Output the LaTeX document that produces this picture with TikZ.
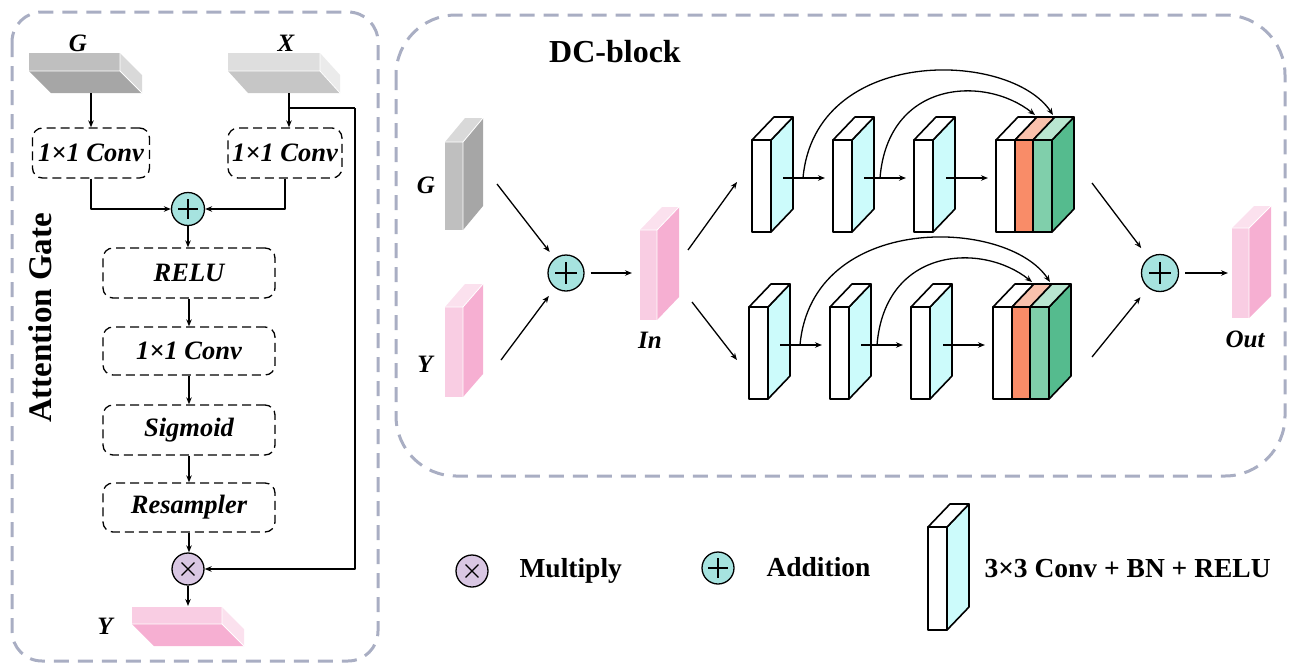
\documentclass[tikz,border=0pt]{standalone}
\usepackage{fontspec}
\setmainfont{Liberation Serif}
\usetikzlibrary{arrows.meta,calc}
\definecolor{framec}{HTML}{A9AEC3}
\definecolor{addc}{HTML}{A6E3DF}
\definecolor{mulc}{HTML}{D9C7E3}
\definecolor{cyanside}{HTML}{CCFBFB}
\definecolor{orng}{HTML}{F98C68}
\definecolor{orngtop}{HTML}{F9C1AC}
\definecolor{grnf}{HTML}{80CFAB}
\definecolor{grns}{HTML}{55BB8E}
\definecolor{grnt}{HTML}{B9E6D1}
\definecolor{pinkf}{HTML}{F9CDE3}
\definecolor{pinks}{HTML}{F6AFD2}
\definecolor{pinkt}{HTML}{FBE1EE}
\definecolor{grayf}{HTML}{BFBFBF}
\definecolor{grayd}{HTML}{A6A6A6}
\definecolor{grayl}{HTML}{D9D9D9}
\definecolor{xf}{HTML}{DEDEDE}
\definecolor{xd}{HTML}{C6C6C6}
\definecolor{xl}{HTML}{EBEBEB}
\tikzset{
  arr/.style={-{Stealth[length=7pt,width=5.5pt]},line width=1.3pt},
  opbox/.style={draw,dash pattern=on 9pt off 5pt,rounded corners=10pt,line width=1.3pt,
    minimum height=50pt,inner sep=0pt,font=\fontsize{26.5}{26.5}\selectfont\bfseries\itshape},
  framebox/.style={draw=framec,line width=3pt,dash pattern=on 15pt off 9pt},
  blk/.style={draw=black,line width=1.6pt,line join=round},
  addnode/.style={circle,draw,fill=addc,line width=1.3pt,minimum size=#1,inner sep=0pt,
    path picture={\draw[line width=1.2pt]
      ([xshift=-0.3*#1]path picture bounding box.center) -- ([xshift=0.3*#1]path picture bounding box.center)
      ([yshift=-0.3*#1]path picture bounding box.center) -- ([yshift=0.3*#1]path picture bounding box.center);}},
  mulnode/.style={circle,draw,fill=mulc,line width=1.3pt,minimum size=#1,inner sep=0pt,
    path picture={\draw[line width=1.2pt]
      ([shift={(-0.2*#1,-0.2*#1)}]path picture bounding box.center) -- ([shift={(0.2*#1,0.2*#1)}]path picture bounding box.center)
      ([shift={(-0.2*#1,0.2*#1)}]path picture bounding box.center) -- ([shift={(0.2*#1,-0.2*#1)}]path picture bounding box.center);}},
  lab/.style={font=\fontsize{25}{25}\selectfont\bfseries\itshape},
  legtext/.style={font=\fontsize{27.5}{27.5}\selectfont\bfseries,anchor=west},
}
% slab seen from above: front, side (down-right), bottom
\newcommand\hslab[9]{%
  \fill[#7] (#1,#2) rectangle ++(#3,#4);
  \fill[#8] (#1+#3,#2) -- ++(#5,#6) -- ++(0,#4) -- ++(-#5,-#6) -- cycle;
  \fill[#9] (#1,#2+#4) -- ++(#3,0) -- ++(#5,#6) -- ++(-#3,0) -- cycle;
  \draw[white,line width=0.8pt] (#1,#2+#4) -- ++(#3,0) -- ++(0,-#4) (#1+#3,#2+#4) -- ++(#5,#6);
}
% upright slab: front, side (up-right), top
\newcommand\vslab[9]{%
  \fill[#7] (#1,#2) rectangle ++(#3,#4);
  \fill[#8] (#1+#3,#2) -- ++(#5,-#6) -- ++(0,#4) -- ++(-#5,#6) -- cycle;
  \fill[#9] (#1,#2) -- ++(#5,-#6) -- ++(#3,0) -- ++(-#5,#6) -- cycle;
  \draw[white,line width=0.8pt] (#1,#2) -- ++(#3,0) -- ++(0,#4) (#1+#3,#2) -- ++(#5,-#6);
}
\newcommand\convblk[3]{% x y height
  \filldraw[blk,fill=cyanside] (#1+19,#2) -- ++(22,-23) -- ++(0,#3) -- ++(-22,23) -- cycle;
  \filldraw[blk,fill=white] (#1,#2) -- ++(22,-23) -- ++(19,0) -- ++(-22,23) -- cycle;
  \filldraw[blk,fill=white] (#1,#2) rectangle ++(19,#3);
}
\newcommand\catblk[2]{% x y
  \filldraw[blk,fill=grns] (#1+56,#2) -- ++(22,-23) -- ++(0,92) -- ++(-22,23) -- cycle;
  \filldraw[blk,fill=white] (#1,#2) -- ++(22,-23) -- ++(19,0) -- ++(-22,23) -- cycle;
  \filldraw[blk,fill=orngtop] (#1+19,#2) -- ++(22,-23) -- ++(18,0) -- ++(-22,23) -- cycle;
  \filldraw[blk,fill=grnt] (#1+37,#2) -- ++(22,-23) -- ++(19,0) -- ++(-22,23) -- cycle;
  \filldraw[blk,fill=white] (#1,#2) rectangle ++(19,92);
  \filldraw[blk,fill=orng] (#1+19,#2) rectangle ++(18,92);
  \filldraw[blk,fill=grnf] (#1+37,#2) rectangle ++(19,92);
}
\newcommand\dcrow[3]{% prefix x0 y0
  \convblk{#2}{#3}{92}
  \convblk{#2+81}{#3}{92}
  \convblk{#2+162}{#3}{92}
  \catblk{#2+244}{#3}
  \coordinate (#1s1) at (#2+31,#3+38);
  \coordinate (#1e1) at (#2+73,#3+38);
  \coordinate (#1s2) at (#2+112,#3+38);
  \coordinate (#1e2) at (#2+154,#3+38);
  \coordinate (#1s3) at (#2+194,#3+38);
  \coordinate (#1e3) at (#2+236,#3+38);
  \coordinate (#1b) at (#2+51,#3+38);
  \coordinate (#1bt) at (#2+301,#3-25);
  \coordinate (#1c) at (#2+128,#3+38);
  \coordinate (#1ct) at (#2+283,#3-25);
  \draw[arr] (#1s1) -- (#1e1);
  \draw[arr] (#1s2) -- (#1e2);
  \draw[arr] (#1s3) -- (#1e3);
  \draw[arr] (#1b) .. controls (#2+63,#3-95) and (#2+258,#3-90) .. (#1bt);
  \draw[arr] (#1c) .. controls (#2+136,#3-60) and (#2+233,#3-65) .. (#1ct);
}
\begin{document}
\begin{tikzpicture}[x=1pt,y=-1pt,line join=round]
\useasboundingbox (0,0) rectangle (1294,667);
% frames
\draw[framebox,rounded corners=30pt] (12,12) rectangle (378,661);
\draw[framebox,rounded corners=60pt] (396,15) rectangle (1285,476);

% ---------- Attention gate ----------
\node[rotate=90,font=\fontsize{33}{33}\selectfont\bfseries] (agt) at (40,318) {Attention Gate};
\hslab{29}{53}{91}{18}{22}{22}{grayf}{grayl}{grayd}
\hslab{228}{53}{92}{18}{20}{22}{xf}{xl}{xd}
\hslab{132}{607}{90}{17}{22}{22}{pinkf}{pinkt}{pinks}
\node[lab] (gl) at (78,43) {G};
\node[lab] (xl) at (286,43) {X};
\node[lab] (yl) at (105,626) {Y};
\coordinate (gb) at (91,93);
\coordinate (xb) at (289,93);
\coordinate (xj) at (289,108);
\coordinate (xr) at (355,108);
\coordinate (yt) at (188,606);

\node[opbox,minimum width=117pt] (c1) at (91,153) {1×1 Conv};
\node[opbox,minimum width=114pt] (c2) at (285,153) {1×1 Conv};
\node[addnode=33pt] (add1) at (188,209) {};
\node[opbox,minimum width=172pt] (relu) at (189,273) {RELU};
\node[opbox,minimum width=172pt,minimum height=48pt] (conv) at (189,351) {1×1 Conv};
\node[opbox,minimum width=172pt] (sig) at (189,430) {Sigmoid};
\node[opbox,minimum width=172pt,minimum height=49pt] (res) at (189,507.5) {Resampler};
\node[mulnode=32pt] (mul) at (188,569) {};

\draw[arr] (gb) -- (gb |- c1.north);
\draw[arr] (xb) -- (xb |- c2.north);
\draw[line width=1.3pt] (xj) -- (xr);
\draw[arr] (xr) |- (mul.east);
\draw[arr] (c1.south) |- (add1.west);
\draw[arr] (c2.south) |- (add1.east);
\draw[arr] (add1.south) -- (add1.south |- relu.north);
\draw[arr] (relu.south) -- (relu.south |- conv.north);
\draw[arr] (conv.south) -- (conv.south |- sig.north);
\draw[arr] (sig.south) -- (sig.south |- res.north);
\draw[arr] (res.south) -- (res.south |- mul.north);
\draw[arr] (mul.south) -- (yt);

% ---------- DC block ----------
\node[font=\fontsize{32}{32}\selectfont\bfseries] (dct) at (615,52) {DC-block};
\vslab{445}{142}{18}{88}{20}{24}{grayf}{grayd}{grayl}
\vslab{445}{307}{18}{90}{20}{23}{pinkf}{pinks}{pinkt}
\vslab{640}{230}{17}{90}{22}{23}{pinkf}{pinks}{pinkt}
\vslab{1232}{228}{17}{90}{22}{22}{pinkf}{pinks}{pinkt}
\node[lab] (gdl) at (426,185) {G};
\node[lab] (ydl) at (425,364) {Y};
\node[lab] (inl) at (650,340) {In};
\node[lab] (outl) at (1245,339) {Out};

\node[addnode=36pt] (add2) at (566,273) {};
\node[addnode=37pt] (add3) at (1160,273) {};

\coordinate (go) at (497,184);
\coordinate (yo) at (501,360);
\coordinate (inw) at (632,273);
\coordinate (ine1) at (688,250);
\coordinate (ine2) at (692,302);
\coordinate (tin) at (737,182);
\coordinate (bin) at (737,360);
\coordinate (tout) at (1092,183);
\coordinate (bout) at (1092,357);
\coordinate (outw) at (1228,273);

\dcrow{t}{752}{140}
\dcrow{b}{749}{307}

\draw[arr,shorten >=8pt] (go) -- (add2);
\draw[arr,shorten >=10pt] (yo) -- (add2);
\draw[arr,shorten <=6pt] (add2.east) -- (inw);
\draw[arr] (ine1) -- (tin);
\draw[arr] (ine2) -- (bin);
\draw[arr,shorten >=12pt] (tout) -- (add3);
\draw[arr,shorten >=12pt] (bout) -- (add3);
\draw[arr,shorten <=6pt] (add3.east) -- (outw);

% ---------- legend ----------
\node[mulnode=32pt] (mulL) at (472,571) {};
\node[legtext] (mulT) at (516,571) {Multiply};
\node[addnode=32pt] (addL) at (718,568) {};
\node[legtext] (addT) at (763,567) {Addition};
\convblk{928}{527}{103}
\node[legtext] (convT) at (981,569) {3×3 Conv + BN + RELU};
\end{tikzpicture}
\end{document}
